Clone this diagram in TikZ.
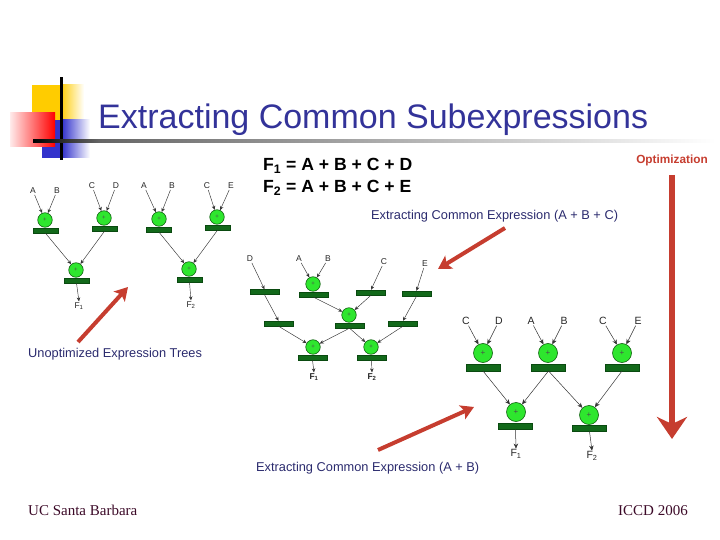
\documentclass[tikz,border=0pt]{standalone}
\usepackage{fontspec}
\setmainfont{Liberation Sans}
\newfontfamily\timesf{Liberation Serif}
\usetikzlibrary{arrows.meta}
\definecolor{titleblue}{HTML}{333399}
\definecolor{navy}{HTML}{2B2B6E}
\definecolor{redarr}{HTML}{C63D2F}
\definecolor{maroon}{HTML}{3C0A28}
\definecolor{opfill}{HTML}{2EE62E}
\definecolor{opedge}{HTML}{0E5E0E}
\definecolor{barfill}{HTML}{12691A}
\definecolor{bardraw}{HTML}{0A4A10}
\definecolor{logoyellow}{HTML}{FFCC00}
\definecolor{logoblue}{HTML}{3333CC}
\begin{document}
\begin{tikzpicture}[x=1pt,y=-1pt,
  opnode/.style={circle,draw=opedge,fill=opfill,line width=0.6pt,inner sep=0pt,text=black!70},
  opS/.style={opnode,minimum size=14.5pt,font=\fontsize{6}{6}\selectfont},
  opL/.style={opnode,minimum size=19pt,font=\fontsize{8}{8}\selectfont},
  barnode/.style={rectangle,draw=bardraw,fill=barfill,inner sep=0pt,line width=0.4pt},
  barS/.style={barnode,minimum width=25pt,minimum height=5pt},
  barM/.style={barnode,minimum width=29pt,minimum height=5pt},
  barL/.style={barnode,minimum width=34pt,minimum height=6.5pt},
  lab/.style={inner sep=0.8pt,text=black!85},
  labS/.style={lab,font=\fontsize{8.5}{9}\selectfont},
  labM/.style={lab,font=\fontsize{8.5}{9}\selectfont},
  labL/.style={lab,font=\fontsize{10.5}{11}\selectfont},
  conn/.style={draw=black!80,line width=0.45pt,-{Stealth[length=4pt,width=3.5pt]}},
  connL/.style={draw=black!80,line width=0.5pt,-{Stealth[length=5pt,width=4.5pt]}},
  redarrow/.style={draw=redarr,line width=4pt,-{Stealth[length=13pt,width=15pt,inset=3pt]}},
  bluetext/.style={anchor=base west,inner sep=0pt,text=navy,font=\fontsize{12.8}{14}\selectfont}
]
\useasboundingbox (0,0) rectangle (720,540);
% ---------- logo ----------
\fill[logoyellow] (32,85) rectangle (60,121);
\shade[left color=logoyellow,right color=white] (60,85) rectangle (84,121);
\fill[logoblue] (42,120) rectangle (62,158);
\shade[left color=logoblue,right color=white] (62,120) rectangle (90,158);
\shade[left color=red!8,right color=red] (10,113) rectangle (55,147);
\fill[black] (60,77) rectangle (62.5,160);
\shade[left color=black,right color=black!60] (33,140) rectangle (100,142.5);
\shade[left color=black!60,right color=white] (100,140) rectangle (715,142.5);
% ---------- title and texts ----------
\node[anchor=base west,inner sep=0pt,text=titleblue,font=\fontsize{34}{40}\selectfont] (title) at (98,129) {Extracting Common Subexpressions};
\node[anchor=base west,inner sep=0pt,font=\bfseries\fontsize{17.6}{19}\selectfont] (eq1) at (263,171) {F\textsubscript{1} = A + B + C + D};
\node[anchor=base west,inner sep=0pt,font=\bfseries\fontsize{17.6}{19}\selectfont] (eq2) at (263,193) {F\textsubscript{2} = A + B + C + E};
\node[anchor=base,inner sep=0pt,text=redarr,font=\bfseries\fontsize{11.8}{13}\selectfont] (opt) at (672,164) {Optimization};
\node[bluetext] (t1) at (371,219) {Extracting Common Expression (A + B + C)};
\node[bluetext] (t2) at (28,357) {Unoptimized Expression Trees};
\node[bluetext] (t3) at (256,471) {Extracting Common Expression (A + B)};
\node[anchor=base west,inner sep=0pt,text=maroon,font=\timesf\fontsize{15}{17}\selectfont] (ucsb) at (28,515) {UC Santa Barbara};
\node[anchor=base east,inner sep=0pt,text=maroon,font=\timesf\fontsize{15}{17}\selectfont] (iccd) at (688,515) {ICCD 2006};
% ---------- red arrows ----------
\coordinate (v1) at (672,175); \coordinate (v2) at (672,439);
\draw[draw=redarr,line width=6pt,-{Stealth[length=22pt,width=30pt,inset=7pt]}] (v1) -- (v2);
\coordinate (u1) at (78,342); \coordinate (u2) at (128,287);
\draw[redarrow] (u1) -- (u2);
\coordinate (w1) at (505,228); \coordinate (w2) at (438,269);
\draw[redarrow] (w1) -- (w2);
\coordinate (x1) at (378,450); \coordinate (x2) at (474,407);
\draw[redarrow] (x1) -- (x2);
% ---------- left trees ----------
\node[labS] (la1) at (33,191) {A};
\node[labS] (lb1) at (57,191) {B};
\node[labS] (lc1) at (92,186) {C};
\node[labS] (ld1) at (116,186) {D};
\node[opS] (l1) at (45,220) {+};
\node[barS] (lr1) at (45.5,230.5) {};
\node[opS] (l2) at (104,218) {+};
\node[barS] (lr2) at (104.5,228.5) {};
\node[opS] (l3) at (76,270) {+};
\node[barS] (lr3) at (76.5,280.5) {};
\node[labS] (lf1) at (79,306) {F\textsubscript{1}};
\draw[conn] (la1) -- (l1);
\draw[conn] (lb1) -- (l1);
\draw[conn] (lc1) -- (l2);
\draw[conn] (ld1) -- (l2);
\draw[conn] (lr1.south) -- (l3);
\draw[conn] (lr2.south) -- (l3);
\draw[conn] (lr3.south) -- (lf1.north);
\node[labS] (la2) at (144,186) {A};
\node[labS] (lb2) at (172,186) {B};
\node[labS] (lc2) at (207,186) {C};
\node[labS] (le2) at (231,186) {E};
\node[opS] (l4) at (159,219) {+};
\node[barS] (lr4) at (159,229.5) {};
\node[opS] (l5) at (217,217) {+};
\node[barS] (lr5) at (217.5,227.5) {};
\node[opS] (l6) at (189,269) {+};
\node[barS] (lr6) at (189.5,279.5) {};
\node[labS] (lf2) at (191,305) {F\textsubscript{2}};
\draw[conn] (la2) -- (l4);
\draw[conn] (lb2) -- (l4);
\draw[conn] (lc2) -- (l5);
\draw[conn] (le2) -- (l5);
\draw[conn] (lr4.south) -- (l6);
\draw[conn] (lr5.south) -- (l6);
\draw[conn] (lr6.south) -- (lf2.north);
% ---------- middle tree ----------
\node[labM] (md) at (250,259) {D};
\node[labM] (ma) at (299,259) {A};
\node[labM] (mb) at (328,259) {B};
\node[labM] (mc) at (384,262) {C};
\node[labM] (me) at (425,264) {E};
\node[barM] (mdr1) at (264.5,292) {};
\node[opS] (mab) at (313,284) {+};
\node[barM] (mabr) at (313.5,294.5) {};
\node[barM] (mcr) at (371,292.5) {};
\node[barM] (mer1) at (416.5,293.5) {};
\node[barM] (mdr2) at (278.5,323.5) {};
\node[opS] (mabc) at (349,315) {+};
\node[barM] (mabcr) at (349.5,325.5) {};
\node[barM] (mer2) at (403,323.5) {};
\node[opS] (mf1) at (313,347) {+};
\node[barM] (mf1r) at (312.5,357.5) {};
\node[opS] (mf2) at (371,347) {+};
\node[barM] (mf2r) at (371.5,357.5) {};
\node[labM,font=\bfseries\fontsize{8.5}{9}\selectfont] (mo1) at (314,377) {F\textsubscript{1}};
\node[labM,font=\bfseries\fontsize{8.5}{9}\selectfont] (mo2) at (372,377) {F\textsubscript{2}};
\draw[conn] (md) -- (mdr1.north);
\draw[conn] (ma) -- (mab);
\draw[conn] (mb) -- (mab);
\draw[conn] (mc) -- (mcr.north);
\draw[conn] (me) -- (mer1.north);
\draw[conn] (mdr1.south) -- (mdr2.north);
\draw[conn] (mabr.south) -- (mabc);
\draw[conn] (mcr.south) -- (mabc);
\draw[conn] (mer1.south) -- (mer2.north);
\draw[conn] (mdr2.south) -- (mf1);
\draw[conn] (mabcr.south) -- (mf1);
\draw[conn] (mabcr.south) -- (mf2);
\draw[conn] (mer2.south) -- (mf2);
\draw[conn] (mf1r.south) -- (mo1.north);
\draw[conn] (mf2r.south) -- (mo2.north);
% ---------- right tree ----------
\node[labL] (rc1) at (466,321) {C};
\node[labL] (rd) at (499,321) {D};
\node[labL] (ra) at (531,321) {A};
\node[labL] (rb) at (564,321) {B};
\node[labL] (rc2) at (603,321) {C};
\node[labL] (re) at (638,321) {E};
\node[opL] (rcd) at (483,353) {+};
\node[barL] (rcdr) at (483,367.5) {};
\node[opL] (rab) at (548,353) {+};
\node[barL] (rabr) at (548.5,367.5) {};
\node[opL] (rce) at (622,353) {+};
\node[barL] (rcer) at (622,367.5) {};
\node[opL] (rf1) at (516,412) {+};
\node[barL] (rf1r) at (515.5,426) {};
\node[opL] (rf2) at (589,415) {+};
\node[barL] (rf2r) at (589.5,428) {};
\node[labL] (ro1) at (516,454) {F\textsubscript{1}};
\node[labL] (ro2) at (592,456) {F\textsubscript{2}};
\draw[connL] (rc1) -- (rcd);
\draw[connL] (rd) -- (rcd);
\draw[connL] (ra) -- (rab);
\draw[connL] (rb) -- (rab);
\draw[connL] (rc2) -- (rce);
\draw[connL] (re) -- (rce);
\draw[connL] (rcdr.south) -- (rf1);
\draw[connL] (rabr.south) -- (rf1);
\draw[connL] (rabr.south) -- (rf2);
\draw[connL] (rcer.south) -- (rf2);
\draw[connL] (rf1r.south) -- (ro1.north);
\draw[connL] (rf2r.south) -- (ro2.north);
\end{tikzpicture}
\end{document}
